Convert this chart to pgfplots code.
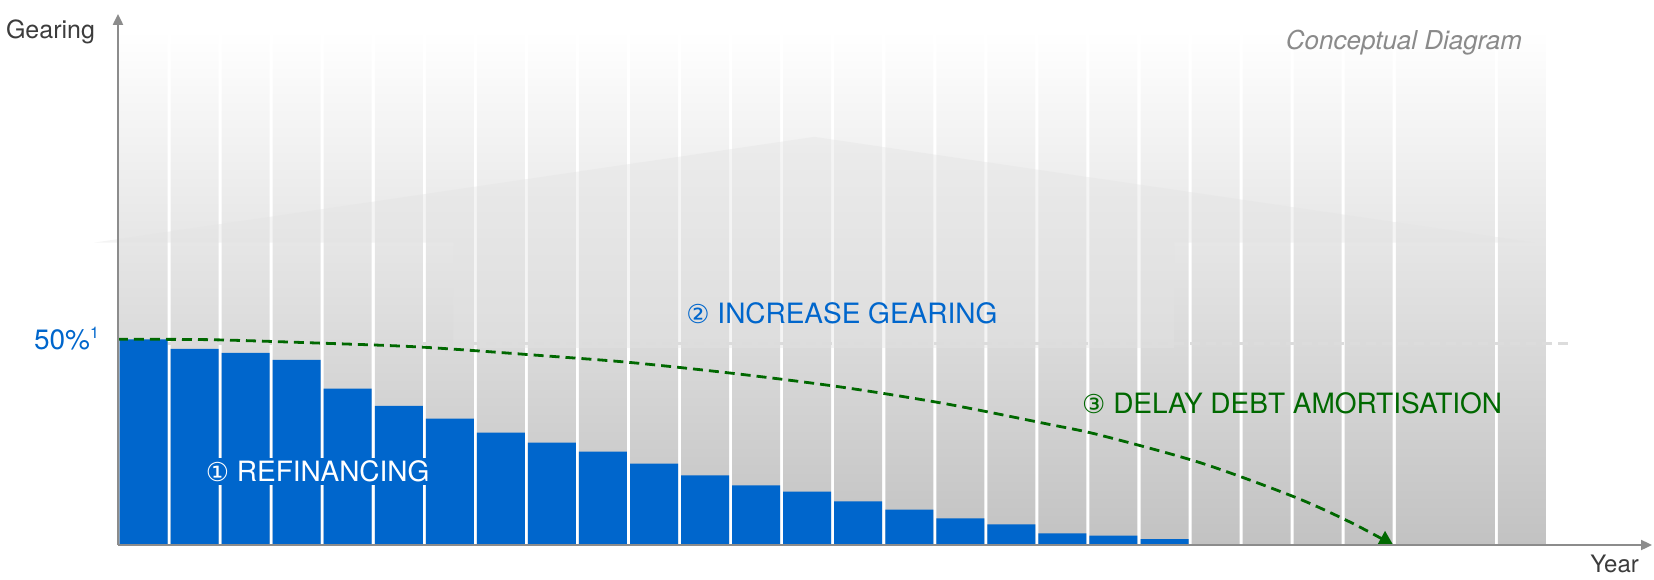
\documentclass[border=0pt]{standalone}
\usepackage{pgfplots}
\usepackage{pgfplotstable}
\pgfplotsset{compat=1.18}
\usetikzlibrary{arrows.meta}
\usepackage{fontspec}
\setmainfont{TeX Gyre Heros}
\newfontfamily\circfont{DejaVu Sans}

\definecolor{barblue}{HTML}{0066CC}
\definecolor{darkgreen}{RGB}{0,104,0}
\definecolor{axisgray}{HTML}{8C8C8C}
\definecolor{labelgray}{HTML}{3C3C3C}
\definecolor{notegray}{HTML}{8A8A8A}
\definecolor{colgray}{HTML}{C9C9C9}
\definecolor{colgraybottom}{HTML}{C2C2C2}
\definecolor{houseshade}{HTML}{E3E3E3}
\definecolor{refline}{HTML}{DCDCDC}

% gearing (%) of the amortising debt, year by year
\pgfplotstableread{
year gearing
1  50.0
2  47.7
3  46.7
4  45.0
5  38.0
6  33.8
7  30.7
8  27.3
9  24.9
10 22.7
11 19.8
12 16.9
13 14.5
14 13.0
15 10.6
16 8.6
17 6.5
18 5.0
19 2.8
20 2.3
21 1.4
}\gearingtable

\begin{document}
\begin{tikzpicture}
\begin{axis}[
  at={(0,0)}, anchor=south west,
  x=25.525pt, y=2.057pt,
  xmin=0.5, xmax=30.55, ymin=0, ymax=129.1,
  axis lines=left,
  axis line style={draw=axisgray, line width=1pt},
  x axis line style={-{Triangle[width=5pt,length=5.5pt]}},
  y axis line style={-{Triangle[width=5pt,length=5.5pt]}},
  xtick=\empty, ytick=\empty,
  clip=false, axis on top,
]

% shaded year columns in the background
\addplot[ybar, bar width=0.94, bar shift=0pt, draw=none,
  top color=white, middle color=colgray, bottom color=colgraybottom]
  coordinates {(1,125)(2,125)(3,125)(4,125)(5,125)(6,125)(7,125)(8,125)
               (9,125)(10,125)(11,125)(12,125)(13,125)(14,125)(15,125)
               (16,125)(17,125)(18,125)(19,125)(20,125)(21,125)(22,125)
               (23,125)(24,125)(25,125)(28,125)};
\addplot[ybar, bar width=1.94, bar shift=0pt, draw=none,
  top color=white, middle color=colgray, bottom color=colgraybottom]
  coordinates {(26.5,125)};

% faint house silhouette
\addplot[draw=none, fill=houseshade, fill opacity=0.4]
  coordinates {(0.03,73.5)(14.14,99.2)(28.25,73.5)(21.19,73.5)
               (21.19,47.9)(7.07,47.9)(7.07,73.5)} -- cycle;

% 50% reference line
\addplot[refline, line width=1.5pt, dash pattern=on 5pt off 3pt]
  coordinates {(0.5,49)(28.9,49)};

% gearing bars
\addplot[ybar, bar width=0.94, bar shift=0pt, draw=none, fill=barblue]
  table[x=year, y=gearing] {\gearingtable};

% delayed amortisation path
\addplot[darkgreen, line width=1.4pt, dash pattern=on 5pt off 3pt, smooth,
  -{Triangle[width=8pt,length=7pt]}]
  coordinates {(0.5,50)(2.32,49.9)(4.39,49.1)(6.45,48.1)(8.95,45.9)
               (10.59,44.3)(12.63,41.6)(14.66,38.4)(16.68,34.4)(18.71,29.4)
               (19.74,26.7)(21.70,20.0)(23.54,11.7)(24.63,5.6)(25.48,0)};

\node[anchor=base east, text=labelgray, font=\fontsize{12.5}{14}\selectfont,
  xshift=-8pt] at (axis cs:0.5,123) {Gearing};
\node[anchor=base east, text=labelgray, font=\fontsize{12}{14}\selectfont]
  at (axis cs:30.43,-6.6) {Year};
\node[anchor=base east, text=barblue, font=\fontsize{14}{16}\selectfont,
  xshift=-5.5pt, yshift=-5pt] at (axis cs:0.5,50)
  {50\%\textsuperscript{\fontsize{8}{9}\selectfont 1}};
\node[anchor=base east, text=notegray, font=\itshape\fontsize{13}{15}\selectfont]
  at (axis cs:28.14,120.4) {Conceptual Diagram};

\node[fill=barblue, text=white, inner sep=1.5pt, font=\fontsize{14}{16}\selectfont]
  at (axis cs:4.41,17.9) {{\circfont\fontsize{13}{15}\selectfont ①} REFINANCING};
\node[text=barblue, inner sep=0pt, font=\fontsize{14}{16}\selectfont]
  at (axis cs:14.68,56.4) {{\circfont\fontsize{13}{15}\selectfont ②} INCREASE GEARING};
\node[text=darkgreen, inner sep=0pt, font=\fontsize{14}{16}\selectfont]
  at (axis cs:23.5,34.5) {{\circfont\fontsize{13}{15}\selectfont ③} DELAY DEBT AMORTISATION};

\end{axis}
\pgfresetboundingbox
\path[use as bounding box] (-59pt,-17pt) rectangle (768pt,272.5pt);
\end{tikzpicture}
\end{document}
